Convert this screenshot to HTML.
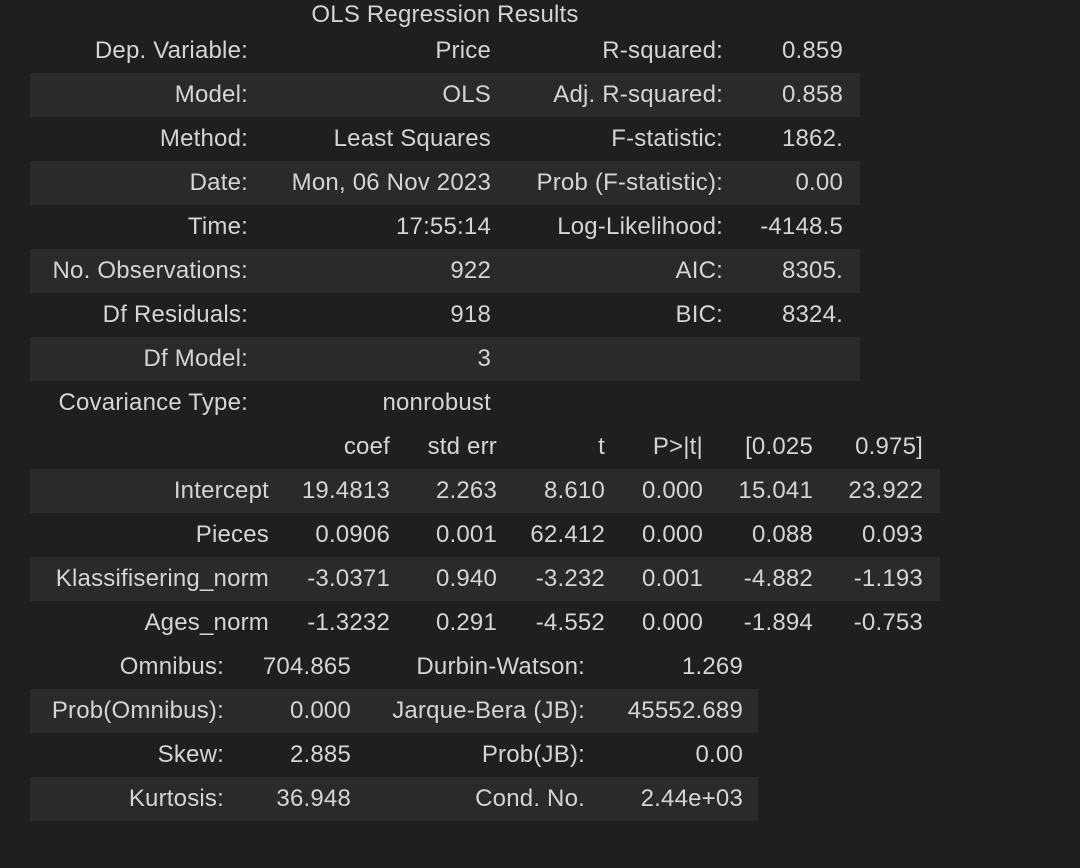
<!DOCTYPE html>
<html><head><meta charset="utf-8"><style>
html,body{margin:0;padding:0;width:1080px;height:868px;background:#1f1f1f;overflow:hidden}
body{position:relative;font-family:"Liberation Sans",sans-serif;font-size:24px;letter-spacing:0.2px;color:#d4d4d4}
.c{position:absolute;white-space:nowrap;line-height:44px;height:44px}
.band{position:absolute;background:#2a2a2a;height:44px}
</style></head><body>
<div class="c" style="left:0;width:890px;top:-7px;text-align:center">OLS Regression Results</div>
<script>
const summaryRows=[["Dep. Variable:","Price","R-squared:","0.859"],["Model:","OLS","Adj. R-squared:","0.858"],["Method:","Least Squares","F-statistic:","1862."],["Date:","Mon, 06 Nov 2023","Prob (F-statistic):","0.00"],["Time:","17:55:14","Log-Likelihood:","-4148.5"],["No. Observations:","922","AIC:","8305."],["Df Residuals:","918","BIC:","8324."],["Df Model:","3","",""],["Covariance Type:","nonrobust","",""]];
const coefHeader=["","coef","std err","t","P>|t|","[0.025","0.975]"];
const coefRows=[["Intercept","19.4813","2.263","8.610","0.000","15.041","23.922"],["Pieces","0.0906","0.001","62.412","0.000","0.088","0.093"],["Klassifisering_norm","-3.0371","0.940","-3.232","0.001","-4.882","-1.193"],["Ages_norm","-1.3232","0.291","-4.552","0.000","-1.894","-0.753"]];
const diagRows=[["Omnibus:","704.865","Durbin-Watson:","1.269"],["Prob(Omnibus):","0.000","Jarque-Bera (JB):","45552.689"],["Skew:","2.885","Prob(JB):","0.00"],["Kurtosis:","36.948","Cond. No.","2.44e+03"]];
const b=document.body;
function cell(t,right,top){const d=document.createElement('div');d.className='c';d.textContent=t;d.style.right=(1080-right)+'px';d.style.top=top+'px';b.appendChild(d);return d;}
function band(l,r,top){const d=document.createElement('div');d.className='band';d.style.left=l+'px';d.style.width=(r-l)+'px';d.style.top=top+'px';b.appendChild(d);return d;}
const c1=[248,491,723,843];
summaryRows.forEach((row,i)=>{const top=29+i*44;
 if(i%2===1&&i<8){const bd=band(30,860,top);
 
 }
 row.forEach((t,j)=>{const d=cell(t,c1[j],top);
 
 });});
const c2=[269,390,497,605,703,813,923];
coefHeader.forEach((t,j)=>{const d=cell(t,c2[j],425);
 
 });
coefRows.forEach((row,i)=>{const top=469+i*44;
 if(i%2===0){const bd=band(30,940,top);
 
 }
 row.forEach((t,j)=>{const d=cell(t,c2[j],top);
 
 });});
const c3=[224,351,585,743];
diagRows.forEach((row,i)=>{const top=645+i*44;
 if(i%2===1){const bd=band(30,758,top);
 
 }
 row.forEach((t,j)=>{const d=cell(t,c3[j],top);
 
 });});
</script>
</body></html>
